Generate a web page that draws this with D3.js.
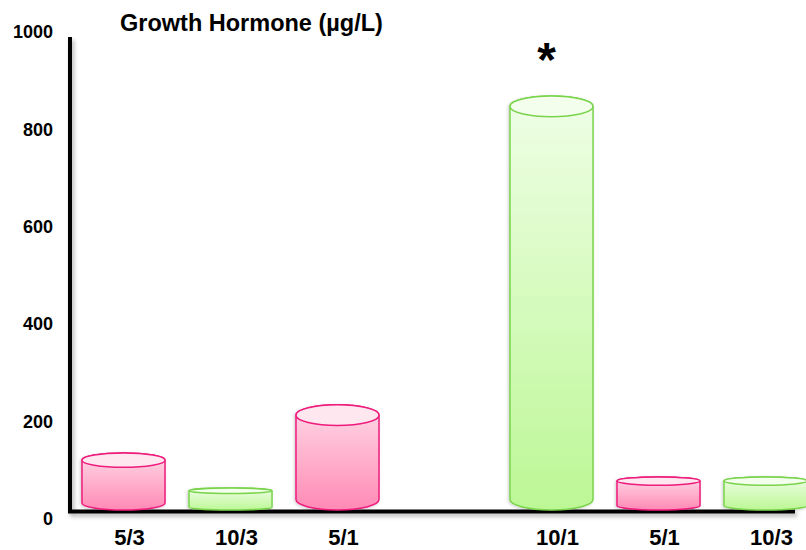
<!DOCTYPE html>
<html lang="en">
<head>
  <meta charset="UTF-8">
  <title>Growth Hormone</title>
  <script src="https://d3js.org/d3.v7.min.js"></script>
  <style>
    body {
      margin: 0;
      background: #fff;
      font-family: "Liberation Sans", Arial, sans-serif;
    }
    text {
      font-weight: bold;
      fill: #000;
    }
  </style>
</head>
<body>
  <svg width="806" height="550"></svg>

  <script>
    // chart data (one slot left empty between the groups)
    const labels = ["5/3", "10/3", "5/1", "", "10/1", "5/1", "10/3"];
    const values = [117, 45, 216, null, 850, 68, 68];
    const groups = ["pink", "green", "pink", null, "green", "pink", "green"];
    const marks  = ["", "", "", "", "*", "", ""];
    const yTicks = [0, 200, 400, 600, 800, 1000];
    const title = "Growth Hormone (µg/L)";

    const svg = d3.select("svg");

    const palette = {
      pink:  {stroke: "#ee1a7c", top: "#ffe7f0", body: ["#ffd8e6", "#ff8ab5"]},
      green: {stroke: "#7ad44c", top: "#f3ffec", body: ["#effee6", "#bcf795"]}
    };

    const x = d3.scaleBand()
                .domain(d3.range(labels.length))
                .range([70, 819])
                .paddingInner(0.224)
                .paddingOuter(0.112);

    const y = d3.scaleLinear()
                .domain([0, 1000])
                .range([510, 23]);

    const defs = svg.append("defs");

    Object.entries(palette).forEach(([key, c]) => {
      const grad = defs.append("linearGradient")
        .attr("id", "grad-" + key)
        .attr("x1", 0).attr("y1", 0).attr("x2", 0).attr("y2", 1);
      grad.append("stop").attr("offset", "0%").attr("stop-color", c.body[0]);
      grad.append("stop").attr("offset", "100%").attr("stop-color", c.body[1]);
    });

    const axisShadow = defs.append("filter").attr("id", "axis-shadow")
      .attr("x", "-10%").attr("y", "-10%").attr("width", "130%").attr("height", "130%");
    axisShadow.append("feDropShadow")
      .attr("dx", 2).attr("dy", 3).attr("stdDeviation", 2)
      .attr("flood-color", "#000").attr("flood-opacity", 0.3);

    const barShadow = defs.append("filter").attr("id", "bar-shadow")
      .attr("x", "-20%").attr("y", "-20%").attr("width", "140%").attr("height", "140%");
    barShadow.append("feDropShadow")
      .attr("dx", -1).attr("dy", 1).attr("stdDeviation", 1.5)
      .attr("flood-color", "#000").attr("flood-opacity", 0.2);

    // Title
    svg.append("text")
       .attr("x", 120)
       .attr("y", 31)
       .style("font-size", "23.5px")
       .text(title);

    // Y tick labels
    const yAxis = svg.append("g")
      .attr("transform", "translate(53,9)")
      .call(d3.axisLeft(y).tickValues(yTicks).tickSize(0).tickPadding(0).tickFormat(d3.format("d")));
    yAxis.select(".domain").remove();
    yAxis.selectAll("text")
      .attr("fill", "#000")
      .style("font-family", "'Liberation Sans', Arial, sans-serif")
      .style("font-size", "18px")
      .style("font-weight", "bold");

    // Axis lines
    const axes = svg.append("g").attr("filter", "url(#axis-shadow)");
    axes.append("line")
      .attr("x1", 70).attr("x2", 70)
      .attr("y1", 37).attr("y2", 513)
      .attr("stroke", "#000").attr("stroke-width", 4);
    axes.append("line")
      .attr("x1", 68).attr("x2", 795)
      .attr("y1", 511.5).attr("y2", 511.5)
      .attr("stroke", "#000").attr("stroke-width", 4);

    // Cylinders
    const data = labels.map((d, i) => ({i, label: d, value: values[i], group: groups[i], mark: marks[i]}));

    const bars = svg.append("g")
      .selectAll("g")
      .data(data.filter(d => d.value != null))
      .join("g")
      .attr("filter", "url(#bar-shadow)");

    const geom = d => {
      const w = x.bandwidth(), x0 = x(d.i), x1 = x0 + w;
      const top = y(d.value), bot = y(0);
      const r = 0.25 * Math.min(w, bot - top) / 2;
      return {x0, x1, w, top, bot, r, rx: w / 2};
    };

    bars.append("path")
      .attr("d", d => {
        const g = geom(d);
        return `M${g.x0},${g.top + g.r} L${g.x0},${g.bot - g.r} ` +
               `A${g.rx},${g.r} 0 0 0 ${g.x1},${g.bot - g.r} L${g.x1},${g.top + g.r} ` +
               `A${g.rx},${g.r} 0 0 0 ${g.x0},${g.top + g.r} Z`;
      })
      .attr("fill", d => `url(#grad-${d.group})`)
      .attr("stroke", d => palette[d.group].stroke)
      .attr("stroke-width", 1.5);

    bars.append("ellipse")
      .attr("cx", d => x(d.i) + x.bandwidth() / 2)
      .attr("cy", d => geom(d).top + geom(d).r)
      .attr("rx", x.bandwidth() / 2)
      .attr("ry", d => geom(d).r)
      .attr("fill", d => palette[d.group].top)
      .attr("stroke", d => palette[d.group].stroke)
      .attr("stroke-width", 1.5);

    // Significance mark
    svg.append("g")
      .selectAll("text")
      .data(data.filter(d => d.mark))
      .join("text")
      .attr("x", d => x(d.i) + x.bandwidth() / 2 - 5)
      .attr("y", d => y(d.value) - 20)
      .attr("text-anchor", "middle")
      .style("font-size", "48px")
      .text(d => d.mark);

    // Category labels
    svg.append("g")
      .selectAll("text")
      .data(data.filter(d => d.label))
      .join("text")
      .attr("x", d => x(d.i) + x.bandwidth() / 2 + 6)
      .attr("y", 545)
      .attr("text-anchor", "middle")
      .style("font-size", "22px")
      .text(d => d.label);
  </script>
</body>
</html>
